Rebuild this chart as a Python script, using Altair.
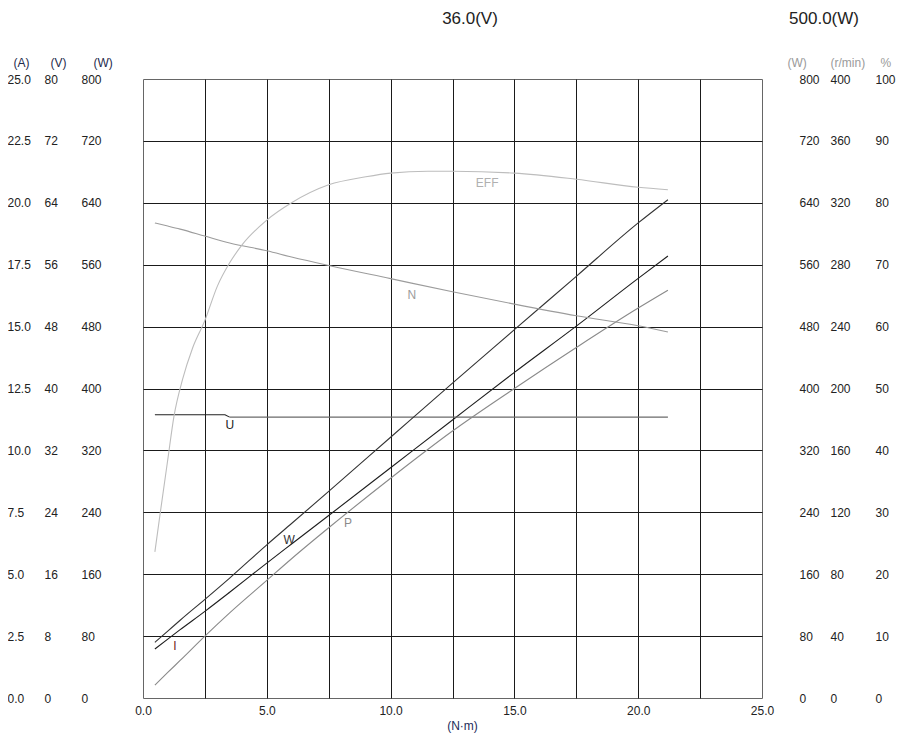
import altair as alt
import pandas as pd

FONT = "Liberation Sans"

# ---- data ----
T = [0.48, 1.0, 1.5, 2.5, 3.5, 5.0, 6.0, 7.5, 10.0, 12.5, 15.0, 17.5, 20.0, 21.2]
I_A = [1.98, 2.38, 2.76, 3.50, 4.27, 5.45, 6.22, 7.37, 9.30, 11.23, 13.15, 15.02, 16.95, 17.85]
W_in = [72, 86.5, 100.5, 127.5, 155, 198, 225.5, 267, 337, 407, 476, 545, 614, 644]
P_out = [16.5, 33, 48.5, 80, 110, 152, 180, 220, 284, 345, 400, 453, 504, 527]
N_rpm = [307, 305, 303, 298.5, 294, 289, 285, 279.5, 271, 262.5, 254.5, 247, 240.5, 236.5]

T_eff = [0.48, 0.7, 1.0, 1.25, 1.6, 2.0, 2.5, 3.0, 3.5, 4.0, 5.0, 6.0, 7.5, 9.0, 10.0,
         11.5, 12.5, 15.0, 17.5, 20.0, 21.2]
EFF = [23.6, 30.0, 38.5, 45.5, 51.5, 56.5, 61.0, 66.5, 70.3, 73.2, 77.2, 80.0, 82.9, 84.2,
       84.8, 85.1, 85.1, 84.8, 83.8, 82.5, 82.1]

T_u = [0.48, 3.31, 3.5, 21.2]
U_v = [36.6, 36.6, 36.3, 36.3]

x_ticks = [0, 2.5, 5, 7.5, 10, 12.5, 15, 17.5, 20, 22.5, 25]
a_ticks = [0, 2.5, 5, 7.5, 10, 12.5, 15, 17.5, 20, 22.5, 25]
v_ticks = [0, 8, 16, 24, 32, 40, 48, 56, 64, 72, 80]
w_ticks = [0, 80, 160, 240, 320, 400, 480, 560, 640, 720, 800]
n_ticks = [0, 40, 80, 120, 160, 200, 240, 280, 320, 360, 400]
e_ticks = [0, 10, 20, 30, 40, 50, 60, 70, 80, 90, 100]

# curve labels: (text, x, y)
lab_I = ("I", 1.29, 2.1)
lab_U = ("U", 3.51, 35.3)
lab_W = ("W", 5.9, 204.2)
lab_P = ("P", 8.28, 226.2)
lab_N = ("N", 10.86, 260.4)
lab_E = ("EFF", 13.9, 83.2)

header_v = "36.0(V)"
header_w = "500.0(W)"

# ---- helpers ----
grid_op = {"condition": {"test": "datum.value <= 0 || datum.value >= 25", "value": 0}, "value": 1}

x_enc = alt.X(
    "x:Q",
    scale=alt.Scale(domain=[0, 25], nice=False, zero=False),
    axis=alt.Axis(
        values=x_ticks,
        labelExpr="datum.value % 5 === 0 ? format(datum.value, '.1f') : ''",
        ticks=False, tickSize=0, domain=False,
        labelPadding=12, labelBaseline="middle", labelFontSize=12, labelFont=FONT,
        labelColor="#222", labelOverlap=False, labelFlush=False, labelBound=False,
        grid=True, gridColor="#1a1a1a", gridWidth=1, gridOpacity=grid_op,
        title="(N·m)", titleX=319, titleY=27, titleAlign="center", titleBaseline="middle",
        titleFontSize=12, titleFontWeight="normal", titleFont=FONT, titleColor="#1c2b5a",
    ),
)


def yaxis(orient, offset, values, fmt, title, title_x, title_color, grid=False):
    kw = dict(
        orient=orient, offset=offset, values=values, format=fmt,
        title=title, titleX=title_x, titleY=-17, titleAngle=0, titleAlign="left",
        titleBaseline="middle", titleFontSize=12, titleFontWeight="normal",
        titleColor=title_color, titleFont=FONT,
        labelAlign="left", labelBaseline="middle", labelPadding=0, labelFontSize=12,
        labelFont=FONT, labelColor="#222", ticks=False, tickSize=0, domain=False,
        labelOverlap=False, labelFlush=False, labelBound=False, grid=grid,
    )
    if grid:
        kw.update(gridColor="#1a1a1a", gridWidth=1, gridOpacity=grid_op)
    return alt.Axis(**kw)


def series(xs, ys, domain, axis, color, interp="monotone"):
    df = pd.DataFrame({"x": xs, "y": ys})
    return alt.Chart(df).mark_line(color=color, strokeWidth=1.1, interpolate=interp).encode(
        x=x_enc,
        y=alt.Y("y:Q", scale=alt.Scale(domain=domain, nice=False, zero=False), axis=axis),
    )


def label(lab, domain, color):
    df = pd.DataFrame({"t": [lab[0]], "x": [lab[1]], "y": [lab[2]]})
    return alt.Chart(df).mark_text(font=FONT, fontSize=12, color=color, align="center",
                                   baseline="middle").encode(
        x=x_enc,
        y=alt.Y("y:Q", scale=alt.Scale(domain=domain, nice=False, zero=False)),
        text="t:N",
    )


navy = "#1f2b4d"
gray_t = "#9a9a9a"

layer_A = alt.layer(
    series(T, I_A, [0, 25], yaxis("left", 136, a_ticks, ".1f", "(A)", 6, navy, grid=True), "#1e1e1e"),
    label(lab_I, [0, 25], "#6e1a1a"),
)
layer_V = alt.layer(
    series(T_u[:3], U_v[:3], [0, 80], yaxis("left", 99, v_ticks, "d", "(V)", 6, navy), "#222222",
           interp="linear"),
    series(T_u[2:], U_v[2:], [0, 80], yaxis("left", 99, v_ticks, "d", "(V)", 6, navy), "#6a6a6a",
           interp="linear"),
    label(lab_U, [0, 80], "#222"),
)
layer_Wl = alt.layer(
    series(T, W_in, [0, 800], yaxis("left", 62, w_ticks, "d", "(W)", 12, navy), "#333333"),
    label(lab_W, [0, 800], "#333"),
)
layer_Wr = alt.layer(
    series(T, P_out, [0, 800], yaxis("right", 37, w_ticks, "d", "(W)", -12, gray_t), "#8a8a8a"),
    label(lab_P, [0, 800], "#8a8a8a"),
)
layer_N = alt.layer(
    series(T, N_rpm, [0, 400], yaxis("right", 68, n_ticks, "d", "(r/min)", 0, gray_t), "#9c9c9c"),
    label(lab_N, [0, 400], "#9c9c9c"),
)
layer_E = alt.layer(
    series(T_eff, EFF, [0, 100], yaxis("right", 113, e_ticks, "d", "%", 5, gray_t), "#bdbdbd"),
    label(lab_E, [0, 100], "#b0b0b0"),
)

hdr_df = pd.DataFrame({"t": [header_v]})
hdr_df2 = pd.DataFrame({"t": [header_w]})
hdr1 = alt.Chart(hdr_df).mark_text(font=FONT, fontSize=17, color="#222", align="center",
                                   baseline="middle").encode(
    x=alt.value(327), y=alt.value(-60), text="t:N")
hdr2 = alt.Chart(hdr_df2).mark_text(font=FONT, fontSize=17, color="#222", align="center",
                                    baseline="middle").encode(
    x=alt.value(681), y=alt.value(-60), text="t:N")

chart = alt.layer(
    layer_A, layer_V, layer_Wl, layer_Wr, layer_N, layer_E, hdr1, hdr2
).resolve_scale(y="independent").properties(
    width=619, height=619,
    autosize=alt.AutoSizeParams(type="none"),
    padding={"left": 135, "top": 71, "right": 136, "bottom": 36},
    background="white",
).configure_view(stroke="#666666", strokeWidth=1)

chart.save("out.html", embed_options={"renderer": "svg", "actions": False})
